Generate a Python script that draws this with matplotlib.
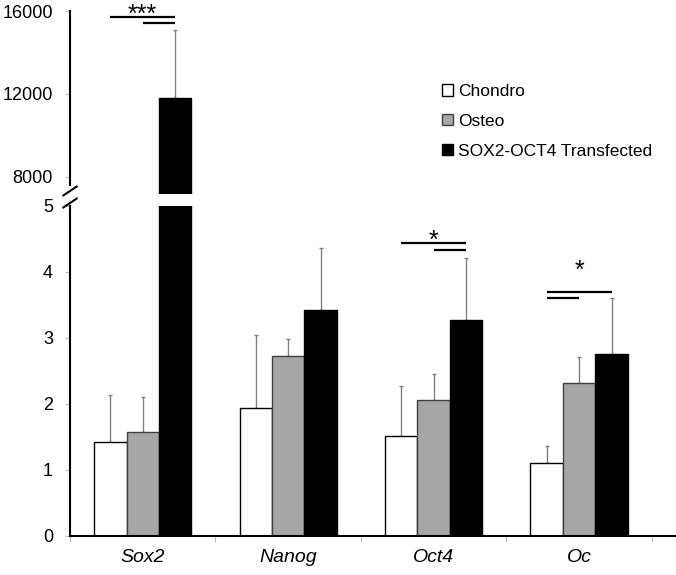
import numpy as np
import matplotlib
matplotlib.use("Agg")
import matplotlib.pyplot as plt

plt.rcParams['font.family'] = ['Liberation Sans', 'DejaVu Sans']

# data
genes = ['Sox2', 'Nanog', 'Oct4', 'Oc']
groups = ['Chondro', 'Osteo', 'SOX2-OCT4 Transfected']
chondro = [1.42, 1.94, 1.52, 1.11]
osteo = [1.58, 2.73, 2.06, 2.32]
transfected = [11800, 3.42, 3.27, 2.76]
chondro_err = [0.72, 1.11, 0.75, 0.25]
osteo_err = [0.53, 0.25, 0.39, 0.39]
transfected_err = [3300, 0.94, 0.94, 0.85]

colors = ['white', '#a6a6a6', 'black']
edges = ['black', '#404040', 'black']

# significance bars: (gene index, bar from, bar to, y) -- bar index 0,1,2
sig_lines_top = [(0, 0, 2, 15710), (0, 1, 2, 15420)]
sig_lines_bot = [(2, 0, 2, 4.44), (2, 1, 2, 4.33), (3, 0, 2, 3.70), (3, 0, 1, 3.61)]
sig_stars = [(0, '***', 16050, 'top'), (2, '*', 4.545, 'bot'), (3, '*', 4.09, 'bot')]

fig = plt.figure(figsize=(6.76, 5.75), dpi=100)
L, W = 70/676, 606/676
ax_top = fig.add_axes([L, 381/575, W, 183/575])
ax_bot = fig.add_axes([L, 39/575, W, 330/575])

x = np.arange(len(genes))
bw = 0.223
series = [chondro, osteo, transfected]
errs = [chondro_err, osteo_err, transfected_err]

handles = []
for ax in (ax_top, ax_bot):
    for i, (vals, e) in enumerate(zip(series, errs)):
        xs = x + (i - 1) * bw
        b = ax.bar(xs, vals, bw, color=colors[i], edgecolor=edges[i], linewidth=1.0,
                   label=groups[i], zorder=2)
        ax.errorbar(xs, vals, yerr=[np.zeros(len(e)), e], fmt='none', ecolor='#808080',
                    elinewidth=1.0, capsize=1.6, capthick=1.0, zorder=1)
        if ax is ax_bot:
            handles.append(b)
    ax.set_xlim(-0.5, 3.666)
    for s in ('top', 'right'):
        ax.spines[s].set_visible(False)
    ax.spines['left'].set_linewidth(1.5)
    ax.tick_params(axis='y', direction='out', length=3.5, width=0.8, color='#bfbfbf',
                   labelsize=13, pad=8.7)

ax_top.set_ylim(7180, 16000)
ax_top.set_yticks([8000, 12000, 16000])
ax_top.spines['bottom'].set_visible(False)
ax_top.spines['left'].set_bounds(7600, 16000)
ax_top.set_xticks([])

ax_bot.set_ylim(0, 5)
ax_bot.set_yticks([0, 1, 2, 3, 4, 5])
ax_bot.spines['bottom'].set_linewidth(1.5)
ax_bot.set_xticks(np.arange(-0.5, 4, 1.0))
ax_bot.set_xticklabels([])
ax_bot.set_xticks(x, minor=True)
ax_bot.set_xticklabels(genes, minor=True, fontsize=14, style='italic')
ax_bot.tick_params(axis='x', which='major', direction='out', length=4, width=0.8, color='#bfbfbf')
ax_bot.tick_params(axis='x', which='minor', length=0, pad=9)

# axis break marks
for yy in (1.0455, 1.009):
    ax_bot.plot([-0.011, 0.011], [yy - 0.0135, yy + 0.0135], transform=ax_bot.transAxes,
                color='black', lw=1.5, clip_on=False)

# significance annotations
for ax, lines in ((ax_top, sig_lines_top), (ax_bot, sig_lines_bot)):
    for g, a, b, yy in lines:
        ax.plot([g + (a - 1) * bw, g + (b - 1) * bw], [yy, yy], color='black', lw=1.6,
                clip_on=False, solid_capstyle='butt')
for g, txt, yy, which in sig_stars:
    ax = ax_top if which == 'top' else ax_bot
    ax.annotate(txt, xy=(g, yy), xytext=(0, -8.3), textcoords='offset points',
                ha='center', va='baseline', fontsize=18, annotation_clip=False)

fig.legend(handles=handles, labels=groups, loc='upper left', bbox_to_anchor=(442/676, 1 - 84/575),
           frameon=False, fontsize=12.5, handlelength=0.65, handleheight=0.65,
           handletextpad=0.3, labelspacing=0.85, borderpad=0, borderaxespad=0)

fig.savefig('out.png', dpi=100, facecolor='white')
